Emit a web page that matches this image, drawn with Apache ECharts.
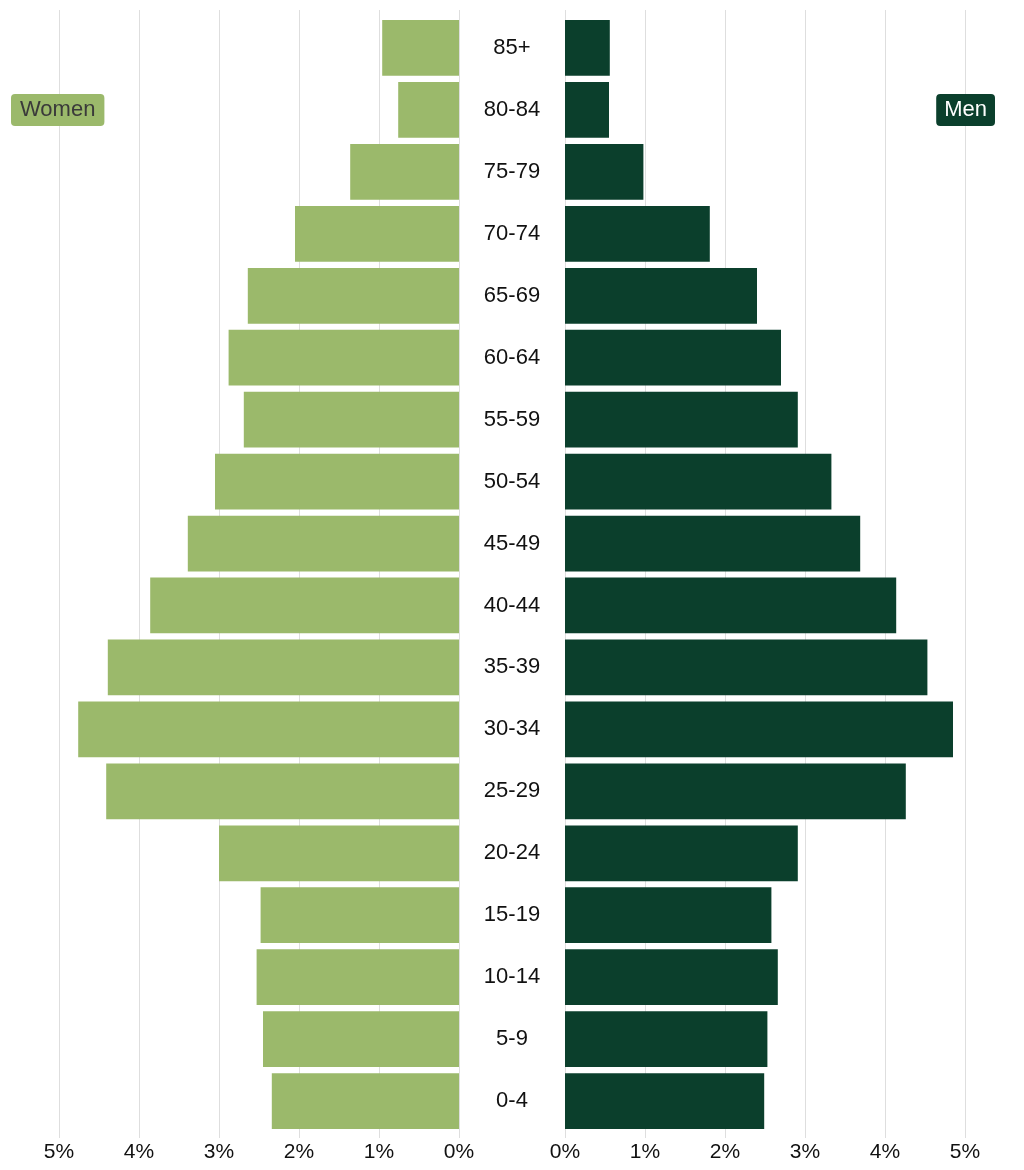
<!DOCTYPE html>
<html>
<head>
<meta charset="utf-8">
<script src="https://cdn.jsdelivr.net/npm/echarts@6/dist/echarts.min.js"></script>
<style>
  html, body { margin: 0; padding: 0; background: #fff; }
  #chart { width: 1024px; height: 1170px; }
</style>
</head>
<body>
<div id="chart"></div>
<script>
// age groups, oldest first (top of the pyramid)
const ageGroups = ['85+', '80-84', '75-79', '70-74', '65-69', '60-64', '55-59', '50-54', '45-49',
    '40-44', '35-39', '30-34', '25-29', '20-24', '15-19', '10-14', '5-9', '0-4'];
const women = [0.96, 0.76, 1.36, 2.05, 2.64, 2.88, 2.69, 3.05, 3.39,
    3.86, 4.39, 4.76, 4.41, 3.00, 2.48, 2.53, 2.45, 2.34];
const men = [0.56, 0.55, 0.98, 1.81, 2.40, 2.70, 2.91, 3.33, 3.69,
    4.14, 4.53, 4.85, 4.26, 2.91, 2.58, 2.66, 2.53, 2.49];
const pctTicks = [0, 1, 2, 3, 4, 5];

const womenColor = '#9bb96b';
const menColor = '#0b3f2c';
const font = 'Liberation Sans, Arial, sans-serif';

const chart = echarts.init(document.getElementById('chart'));

const pctAxis = (grid, inverse, showLines, showLabels) => ({
    type: 'value',
    gridIndex: grid,
    min: pctTicks[0],
    max: pctTicks[pctTicks.length - 1],
    interval: 1,
    inverse: inverse,
    axisLine: { show: false },
    axisTick: { show: false },
    splitLine: { show: showLines, lineStyle: { color: '#dedede', width: 1 } },
    axisLabel: {
        show: showLabels,
        formatter: v => v + '%',
        color: '#111',
        fontSize: 21,
        fontFamily: font,
        margin: 4
    }
});

chart.setOption({
    animation: false,
    title: [
        {
            text: 'Women',
            left: 11, top: 94,
            padding: [5, 9, 5, 9],
            backgroundColor: womenColor,
            borderRadius: 4,
            textStyle: { color: '#3a3a3a', fontSize: 22, fontWeight: 'normal', fontFamily: font }
        },
        {
            text: 'Men',
            right: 29, top: 94,
            padding: [5, 8, 5, 8],
            backgroundColor: menColor,
            borderRadius: 4,
            textStyle: { color: '#fff', fontSize: 22, fontWeight: 'normal', fontFamily: font }
        }
    ],
    grid: [
        // background grids carry the gridlines and the % labels
        { left: 59, right: 565, top: 10, bottom: 32 },
        { left: 565, right: 59, top: 10, bottom: 32 },
        // bar grids
        { left: 59, right: 565, top: 17, bottom: 38 },
        { left: 565, right: 59, top: 17, bottom: 38 }
    ],
    xAxis: [
        pctAxis(0, true, true, true),
        pctAxis(1, false, true, true),
        pctAxis(2, true, false, false),
        pctAxis(3, false, false, false)
    ],
    yAxis: [
        { type: 'category', gridIndex: 0, show: false, data: ageGroups, inverse: true },
        { type: 'category', gridIndex: 1, show: false, data: ageGroups, inverse: true },
        {
            type: 'category', gridIndex: 2, data: ageGroups, inverse: true,
            axisLine: { show: false }, axisTick: { show: false }, axisLabel: { show: false }
        },
        {
            type: 'category', gridIndex: 3, data: ageGroups, inverse: true,
            position: 'left',
            axisLine: { show: false }, axisTick: { show: false },
            axisLabel: {
                align: 'center',
                margin: 53,
                color: '#111',
                fontSize: 22,
                fontFamily: font
            }
        }
    ],
    series: [
        {
            name: 'Women', type: 'bar', xAxisIndex: 2, yAxisIndex: 2,
            data: women, barCategoryGap: '10%',
            itemStyle: { color: womenColor }
        },
        {
            name: 'Men', type: 'bar', xAxisIndex: 3, yAxisIndex: 3,
            data: men, barCategoryGap: '10%',
            itemStyle: { color: menColor }
        }
    ]
});
</script>
</body>
</html>
